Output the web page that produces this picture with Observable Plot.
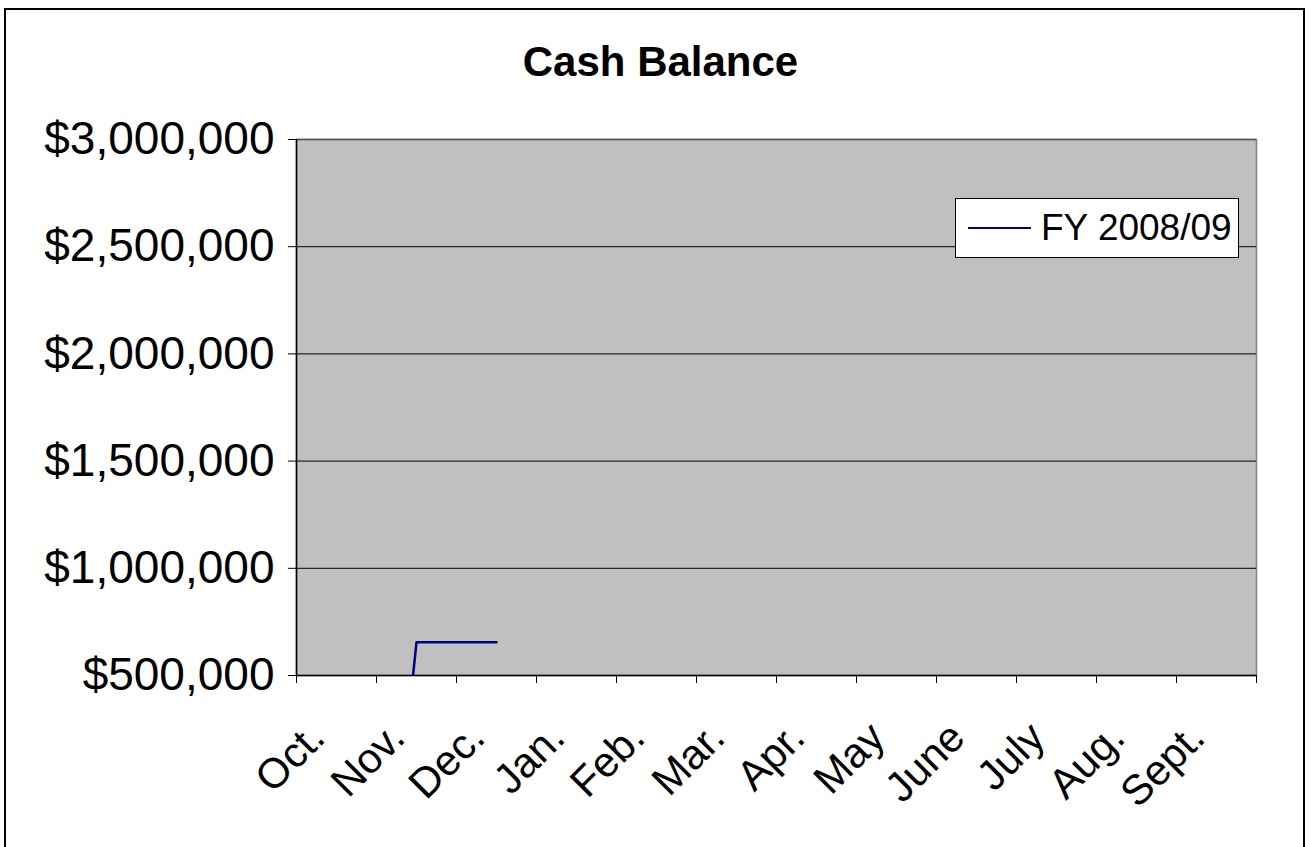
<!DOCTYPE html>
<html>
<head>
<meta charset="utf-8">
<script src="https://cdn.jsdelivr.net/npm/d3@7"></script>
<script src="https://cdn.jsdelivr.net/npm/@observablehq/plot@0.6"></script>
<style>
  html, body { margin: 0; padding: 0; background: #fff; }
  #wrap { position: relative; width: 1310px; height: 847px; overflow: hidden; font-family: "Liberation Sans", Arial, sans-serif; }
  #border { position: absolute; left: 4px; top: 8px; width: 1301px; height: 860px; border: 2px solid #000; box-sizing: border-box; pointer-events: none; }
  #legend { position: absolute; left: 955px; top: 198px; width: 284px; height: 60px; box-sizing: border-box; border: 1.5px solid #000; background: #fff; display: flex; align-items: center; }
  #legend .swatch { width: 63px; height: 0; border-top: 2.5px solid #000080; margin-left: 12px; margin-right: 10px; }
  #legend .lab { font-size: 37px; color: #000; white-space: nowrap; }
  svg { position: absolute; left: 0; top: 0; }
</style>
</head>
<body>
<div id="wrap"></div>
<script>
const title = "Cash Balance";
const seriesName = "FY 2008/09";
const months = ["Oct.", "Nov.", "Dec.", "Jan.", "Feb.", "Mar.", "Apr.", "May", "June", "July", "Aug.", "Sept."];
const balance = [-2900000, 655000, 655000];
const yTicks = [500000, 1000000, 1500000, 2000000, 2500000, 3000000];

const data = balance.map((v, i) => ({month: months[i], value: v}));
const pos = m => months.indexOf(m) + 0.5;

const chart = Plot.plot({
  width: 1310,
  height: 847,
  marginLeft: 296,
  marginRight: 54,
  marginTop: 139,
  marginBottom: 172,
  style: {fontFamily: "'Liberation Sans', Arial, sans-serif", background: "transparent", color: "#000"},
  x: {type: "linear", domain: [0, months.length]},
  y: {domain: [yTicks[0], yTicks[yTicks.length - 1]]},
  marks: [
    Plot.frame({fill: "#c0c0c0", stroke: "#808080", strokeWidth: 1.5}),
    Plot.ruleY(yTicks.slice(1, -1), {stroke: "#000", strokeWidth: 1}),
    Plot.ruleY([yTicks[yTicks.length - 1]], {stroke: "#555", strokeWidth: 1.5}),
    Plot.line(data, {x: d => pos(d.month), y: "value", stroke: "#000080", strokeWidth: 2.5, clip: true}),
    Plot.ruleX([0], {stroke: "#000", strokeWidth: 1.5}),
    Plot.ruleY([yTicks[0]], {stroke: "#000", strokeWidth: 1.5}),
    Plot.axisY({ticks: yTicks, tickFormat: d => "$" + d3.format(",")(d), fontSize: 46, tickSize: 8, tickPadding: 14, label: null, stroke: "#000"}),
    Plot.axisX({ticks: d3.range(months.length + 1), tickFormat: () => "", tickSize: 8, label: null, stroke: "#000"}),
    Plot.axisX({ticks: months.map((m, i) => i + 0.5), tickFormat: d => months[Math.floor(d)], tickSize: 0, tickPadding: 55, dx: -19, tickRotate: -45, fontSize: 42, label: null}),
    Plot.text([title], {frameAnchor: "top", lineAnchor: "middle", dx: -116, dy: -77, fontSize: 42, fontWeight: "bold", fill: "#000"})
  ]
});

const wrap = document.getElementById("wrap");
wrap.appendChild(chart);
const border = document.createElement("div");
border.id = "border";
wrap.appendChild(border);
const legend = document.createElement("div");
legend.id = "legend";
legend.innerHTML = '<div class="swatch"></div><div class="lab"></div>';
legend.querySelector(".lab").textContent = seriesName;
wrap.appendChild(legend);
</script>
</body>
</html>
